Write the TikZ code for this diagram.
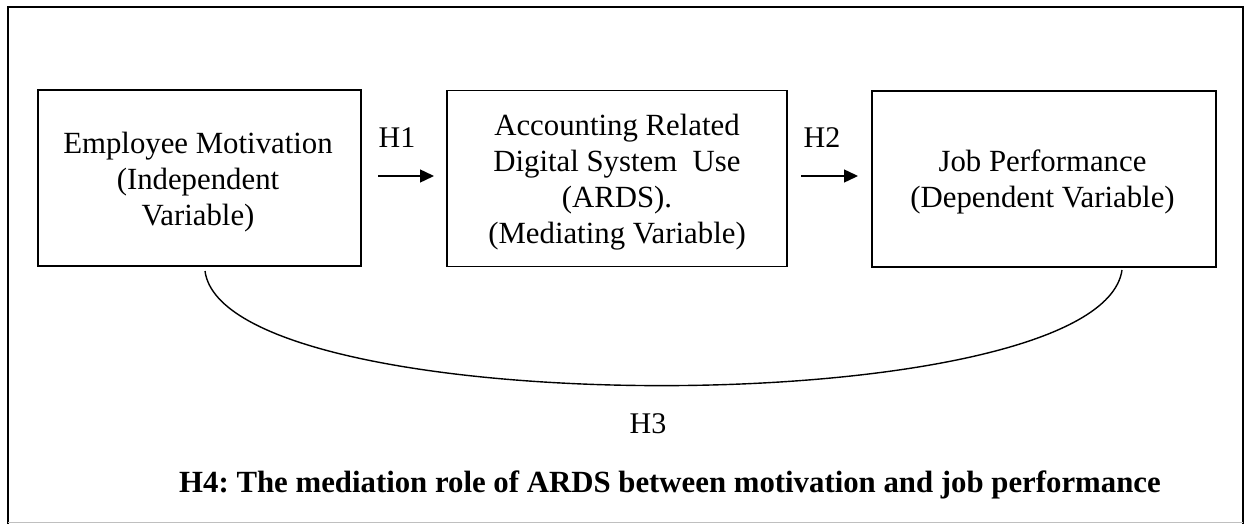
\documentclass[tikz,border=0pt]{standalone}
\usepackage{fontspec}
\setmainfont{Liberation Serif}
\usetikzlibrary{arrows.meta}
\begin{document}
\begin{tikzpicture}[x=1pt,y=-1pt,
  varbox/.style={draw,line width=1.8pt,inner sep=0pt,minimum height=176pt},
  txt/.style={align=center,inner sep=0pt,font=\fontsize{30.8}{36}\selectfont},
  hlab/.style={anchor=base,inner sep=0pt,font=\fontsize{30}{36}\selectfont},
  harrow/.style={line width=1.4pt,-{Triangle[length=14pt,width=13pt]}},
  link/.style={line width=1.4pt}]
\useasboundingbox (0,0) rectangle (1250,524);
% outer frame
\draw[line width=1.8pt] (8,524) -- (8,7) -- (1243,7) -- (1243,524);
\draw[line width=1pt,black!25] (8,522) -- (1243,522);
% boxes
\node[varbox,minimum width=323pt] (b1) at (199.5,178) {};
\node[varbox,minimum width=340pt] (b2) at (617,178.5) {};
\node[varbox,minimum width=344pt] (b3) at (1044,179) {};
% box texts
\node[txt] (t1) at (198,182) {Employee Motivation\\(Independent\\Variable)};
\node[txt] (t2) at (617,182) {Accounting Related\\Digital System\ \ Use\\(ARDS).\\(Mediating Variable)};
\node[txt] (t3) at (1042.5,182) {Job Performance\\(Dependent Variable)};
% hypothesis labels
\node[hlab] (h1) at (397,147) {H1};
\node[hlab] (h2) at (822,147) {H2};
\node[hlab] (h3) at (648,433) {H3};
\node[hlab,font=\fontsize{30.8}{36}\selectfont\bfseries\frenchspacing] (h4) at (670,492) {H4: The mediation role of ARDS between motivation and job performance};
% arrows
\coordinate (a1s) at (378,176);
\coordinate (a1e) at (434,176);
\coordinate (a2s) at (801,176);
\coordinate (a2e) at (858,176);
\draw[harrow] (a1s) -- (a1e);
\draw[harrow] (a2s) -- (a2e);
% curve H3
\coordinate (c1) at (205,271);
\coordinate (c2) at (1122,270);
\draw[link] (c1) .. controls (225,424) and (1100,424) .. (c2);
\end{tikzpicture}
\end{document}
